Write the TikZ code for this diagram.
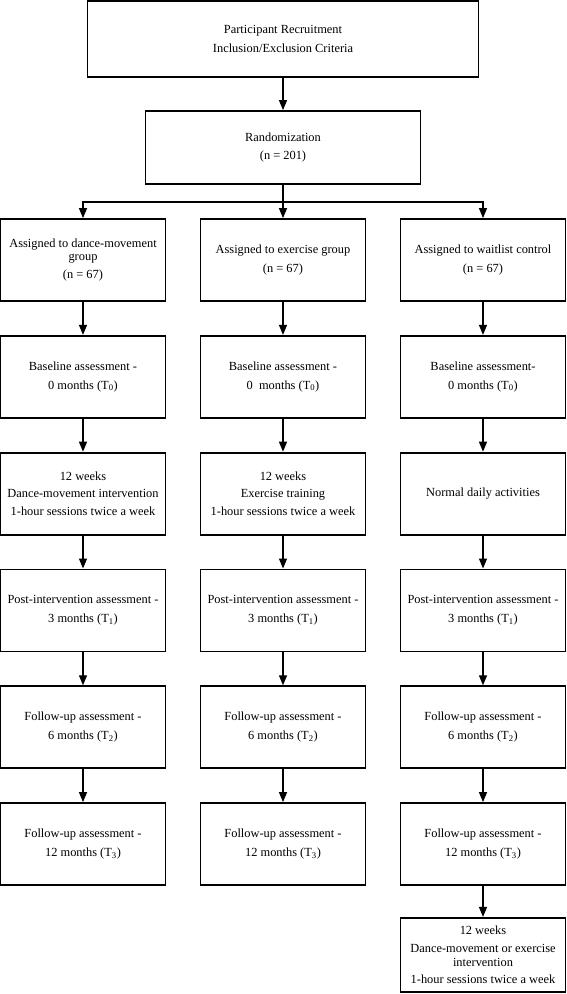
\documentclass[tikz,border=0pt]{standalone}
\usepackage{fontspec}
\setmainfont{Liberation Serif}
\usetikzlibrary{arrows.meta,positioning}

\begin{document}
\begin{tikzpicture}[x=1pt, y=1pt, >={Triangle[length=10pt,width=8pt]},
  box/.style={draw, line width=1.8pt, minimum width=165pt, minimum height=82pt, align=center,
    inner sep=2pt, font=\fontsize{12.4pt}{13.5pt}\selectfont},
  arr/.style={->, line width=1.3pt},
  node distance=33pt]
  \useasboundingbox (0,0) rectangle (566,-994);
  \node[box, minimum width=391pt, minimum height=76pt] (recruit) at (283,-39) {Participant Recruitment\\[5pt]Inclusion/Exclusion Criteria};
  \node[box, minimum width=275pt, minimum height=73pt] (rand) at (283,-147.5) {Randomization\\[5pt](n = 201)};
  % dance-movement group
  \node[box] (dAssign) at (83,-260) {Assigned to dance-movement\\group\\[4pt](n = 67)};
  \node[box, below=of dAssign] (dBase) {Baseline assessment -\\[5pt]0 months (T\textsubscript{0})};
  \node[box, below=of dBase] (dInt) {12 weeks\\[4pt]Dance-movement intervention\\[4pt]1-hour sessions twice a week};
  \node[box, below=of dInt] (dPost) {Post-intervention assessment -\\[5pt]3 months (T\textsubscript{1})};
  \node[box, below=of dPost] (dFu6) {Follow-up assessment -\\[5pt]6 months (T\textsubscript{2})};
  \node[box, below=of dFu6] (dFu12) {Follow-up assessment -\\[5pt]12 months (T\textsubscript{3})};
  % exercise group
  \node[box] (eAssign) at (283,-260) {Assigned to exercise group\\[5pt](n = 67)};
  \node[box, below=of eAssign] (eBase) {Baseline assessment -\\[5pt]0~~months (T\textsubscript{0})};
  \node[box, below=of eBase] (eInt) {12 weeks\\[4pt]Exercise training\\[4pt]1-hour sessions twice a week};
  \node[box, below=of eInt] (ePost) {Post-intervention assessment -\\[5pt]3 months (T\textsubscript{1})};
  \node[box, below=of ePost] (eFu6) {Follow-up assessment -\\[5pt]6 months (T\textsubscript{2})};
  \node[box, below=of eFu6] (eFu12) {Follow-up assessment -\\[5pt]12 months (T\textsubscript{3})};
  % waitlist control
  \node[box] (wAssign) at (483,-260) {Assigned to waitlist control\\[5pt](n = 67)};
  \node[box, below=of wAssign] (wBase) {Baseline assessment-\\[5pt]0 months (T\textsubscript{0})};
  \node[box, below=of wBase] (wInt) {Normal daily activities};
  \node[box, below=of wInt] (wPost) {Post-intervention assessment -\\[5pt]3 months (T\textsubscript{1})};
  \node[box, below=of wPost] (wFu6) {Follow-up assessment -\\[5pt]6 months (T\textsubscript{2})};
  \node[box, below=of wFu6] (wFu12) {Follow-up assessment -\\[5pt]12 months (T\textsubscript{3})};
  \node[box, below=31pt of wFu12, minimum height=74pt] (wLater) {12 weeks\\[5pt]Dance-movement or exercise\\intervention\\[4pt]1-hour sessions twice a week};
  % connectors
  \draw[arr] (recruit) -- (rand);
  \draw[line width=1.3pt] (rand.south) -- ++(0,-17pt) coordinate (split);
  \draw[arr] (split) -| (dAssign.north);
  \draw[arr] (split) -- (eAssign.north);
  \draw[arr] (split) -| (wAssign.north);
  \draw[arr] (dAssign) -- (dBase); \draw[arr] (dBase) -- (dInt); \draw[arr] (dInt) -- (dPost);
  \draw[arr] (dPost) -- (dFu6); \draw[arr] (dFu6) -- (dFu12);
  \draw[arr] (eAssign) -- (eBase); \draw[arr] (eBase) -- (eInt); \draw[arr] (eInt) -- (ePost);
  \draw[arr] (ePost) -- (eFu6); \draw[arr] (eFu6) -- (eFu12);
  \draw[arr] (wAssign) -- (wBase); \draw[arr] (wBase) -- (wInt); \draw[arr] (wInt) -- (wPost);
  \draw[arr] (wPost) -- (wFu6); \draw[arr] (wFu6) -- (wFu12); \draw[arr] (wFu12) -- (wLater);
\end{tikzpicture}
\end{document}
